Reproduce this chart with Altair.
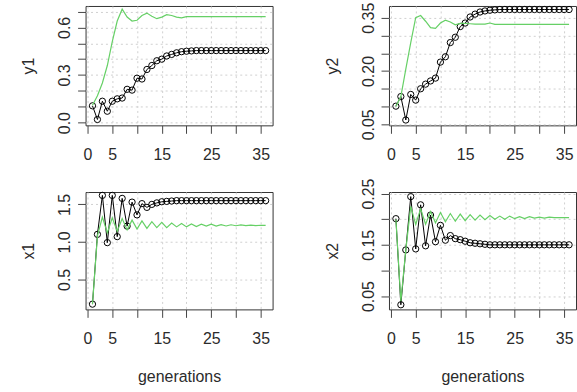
import altair as alt
import pandas as pd

gens = list(range(1, 37))

y1_black = [0.106, 0.02, 0.135, 0.072, 0.135, 0.15, 0.155, 0.21, 0.205, 0.28, 0.275,
            0.335, 0.36, 0.39, 0.40, 0.42, 0.43, 0.44, 0.447, 0.45, 0.452] + [0.454] * 15
y1_green = [0.11, 0.17, 0.25, 0.36, 0.51, 0.64, 0.715, 0.665, 0.64, 0.645, 0.675, 0.69,
            0.67, 0.655, 0.665, 0.68, 0.675, 0.665, 0.66, 0.668] + [0.668] * 16

y2_black = [0.101, 0.128, 0.062, 0.134, 0.118, 0.15, 0.163, 0.172, 0.18, 0.225, 0.24,
            0.28, 0.295, 0.325, 0.335, 0.352, 0.36, 0.366, 0.369, 0.371, 0.372] + [0.373] * 15
y2_green = [0.10, 0.128, 0.205, 0.28, 0.35, 0.356, 0.34, 0.322, 0.32, 0.335, 0.343, 0.338,
            0.33, 0.334, 0.334, 0.333, 0.332, 0.332, 0.332, 0.335, 0.331] + [0.331] * 15

x1_black = [0.17, 1.1, 1.62, 0.99, 1.62, 1.07, 1.58, 1.21, 1.53, 1.36, 1.51, 1.46, 1.5,
            1.52, 1.535, 1.54, 1.545] + [1.55] * 19
x1_green = [0.17, 1.08, 1.33, 1.12, 1.32, 1.14, 1.31, 1.16, 1.29, 1.17, 1.28, 1.18, 1.27,
            1.19, 1.26, 1.19, 1.25, 1.2, 1.245, 1.2, 1.24, 1.205, 1.235, 1.21, 1.235, 1.21,
            1.23, 1.212, 1.228, 1.215, 1.226, 1.216, 1.224, 1.218, 1.222, 1.22]

x2_black = [0.201, 0.033, 0.14, 0.244, 0.142, 0.228, 0.148, 0.208, 0.156, 0.188, 0.159,
            0.168, 0.162, 0.16, 0.157, 0.154, 0.153, 0.152, 0.151] + [0.15] * 17
x2_green = [0.20, 0.04, 0.14, 0.225, 0.19, 0.22, 0.19, 0.215, 0.193, 0.213, 0.195, 0.211,
            0.196, 0.21, 0.197, 0.209, 0.198, 0.208, 0.199, 0.207, 0.2, 0.206, 0.2, 0.206,
            0.201, 0.205, 0.201, 0.205, 0.202, 0.204, 0.202, 0.204, 0.203, 0.203, 0.203, 0.203]

x_ticks = [0, 5, 10, 15, 20, 25, 30, 35]
x_shown = [0, 5, 15, 25, 35]

GREEN = "#66d066"
FONT = "Liberation Sans"
TXT = "#2b2b2b"


def shown_expr(vals):
    cond = " || ".join(f"abs(datum.value - {v}) < 1e-6" for v in vals)
    return f"({cond}) ? datum.label : ''"


def panel(black, green, ytitle, ydomain, yticks, yshown, yfmt, height, xtitle):
    dfb = pd.DataFrame({"gen": gens, "value": black})
    dfg = pd.DataFrame({"gen": gens, "value": green})
    xaxis_kw = dict(values=x_ticks, labelExpr=shown_expr(x_shown), tickSize=8,
                    labelPadding=13, labelBaseline="top", grid=True, domain=False)
    if xtitle:
        xaxis_kw.update(title=xtitle, titleY=72, titleBaseline="alphabetic")
    else:
        xaxis_kw.update(title=None)
    x = alt.X("gen:Q", scale=alt.Scale(domain=[-0.4, 37.4], nice=False, zero=False),
              axis=alt.Axis(**xaxis_kw))
    y = alt.Y("value:Q", scale=alt.Scale(domain=ydomain, nice=False, zero=False),
              axis=alt.Axis(values=yticks, labelExpr=shown_expr(yshown), format=yfmt,
                            title=ytitle, titleX=-57, titleY=height / 2,
                            titleAlign="center", titleBaseline="middle", titleAngle=270,
                            labelAngle=270, labelAlign="center", labelBaseline="middle",
                            labelPadding=13, tickSize=8, grid=True, domain=False))
    lb = alt.Chart(dfb).mark_line(color="black", strokeWidth=1).encode(x=x, y=y)
    pb = alt.Chart(dfb).mark_point(shape="circle", filled=False, color="black",
                                   size=40, strokeWidth=1, opacity=1).encode(x=x, y=y)
    lg = alt.Chart(dfg).mark_line(color=GREEN, strokeWidth=1.2).encode(x=x, y=y)
    return alt.layer(lb, pb, lg).properties(width=188, height=height)


p1 = panel(y1_black, y1_green, "y1", [-0.017, 0.735],
           [0.0, 0.1, 0.2, 0.3, 0.4, 0.5, 0.6, 0.7], [0.0, 0.3, 0.6], ".1f", 120, None)
p2 = panel(y2_black, y2_green, "y2", [0.047, 0.383],
           [0.05, 0.1, 0.15, 0.2, 0.25, 0.3, 0.35], [0.05, 0.2, 0.35], ".2f", 120, None)
p3 = panel(x1_black, x1_green, "x1", [0.10, 1.665],
           [0.5, 1.0, 1.5], [0.5, 1.0, 1.5], ".1f", 118, "generations")
p4 = panel(x2_black, x2_green, "x2", [0.024, 0.253],
           [0.05, 0.1, 0.15, 0.2, 0.25], [0.05, 0.15, 0.25], ".2f", 118, "generations")

chart = alt.vconcat(
    alt.hconcat(p1, p2, spacing=50),
    alt.hconcat(p3, p4, spacing=50),
    spacing=14,
).properties(
    padding={"left": 20, "top": 0, "right": 0, "bottom": 0},
    background="white",
).configure_view(
    stroke="#333333", strokeWidth=1
).configure_axis(
    labelFont=FONT, titleFont=FONT, labelFontSize=16, titleFontSize=16,
    labelColor=TXT, titleColor=TXT, titleFontWeight="normal",
    tickColor="#444444", tickWidth=1,
    gridColor="#d0d0d0", gridDash=[2, 3], gridWidth=1,
)

chart.save("out.html", embed_options={"renderer": "svg", "actions": False})
